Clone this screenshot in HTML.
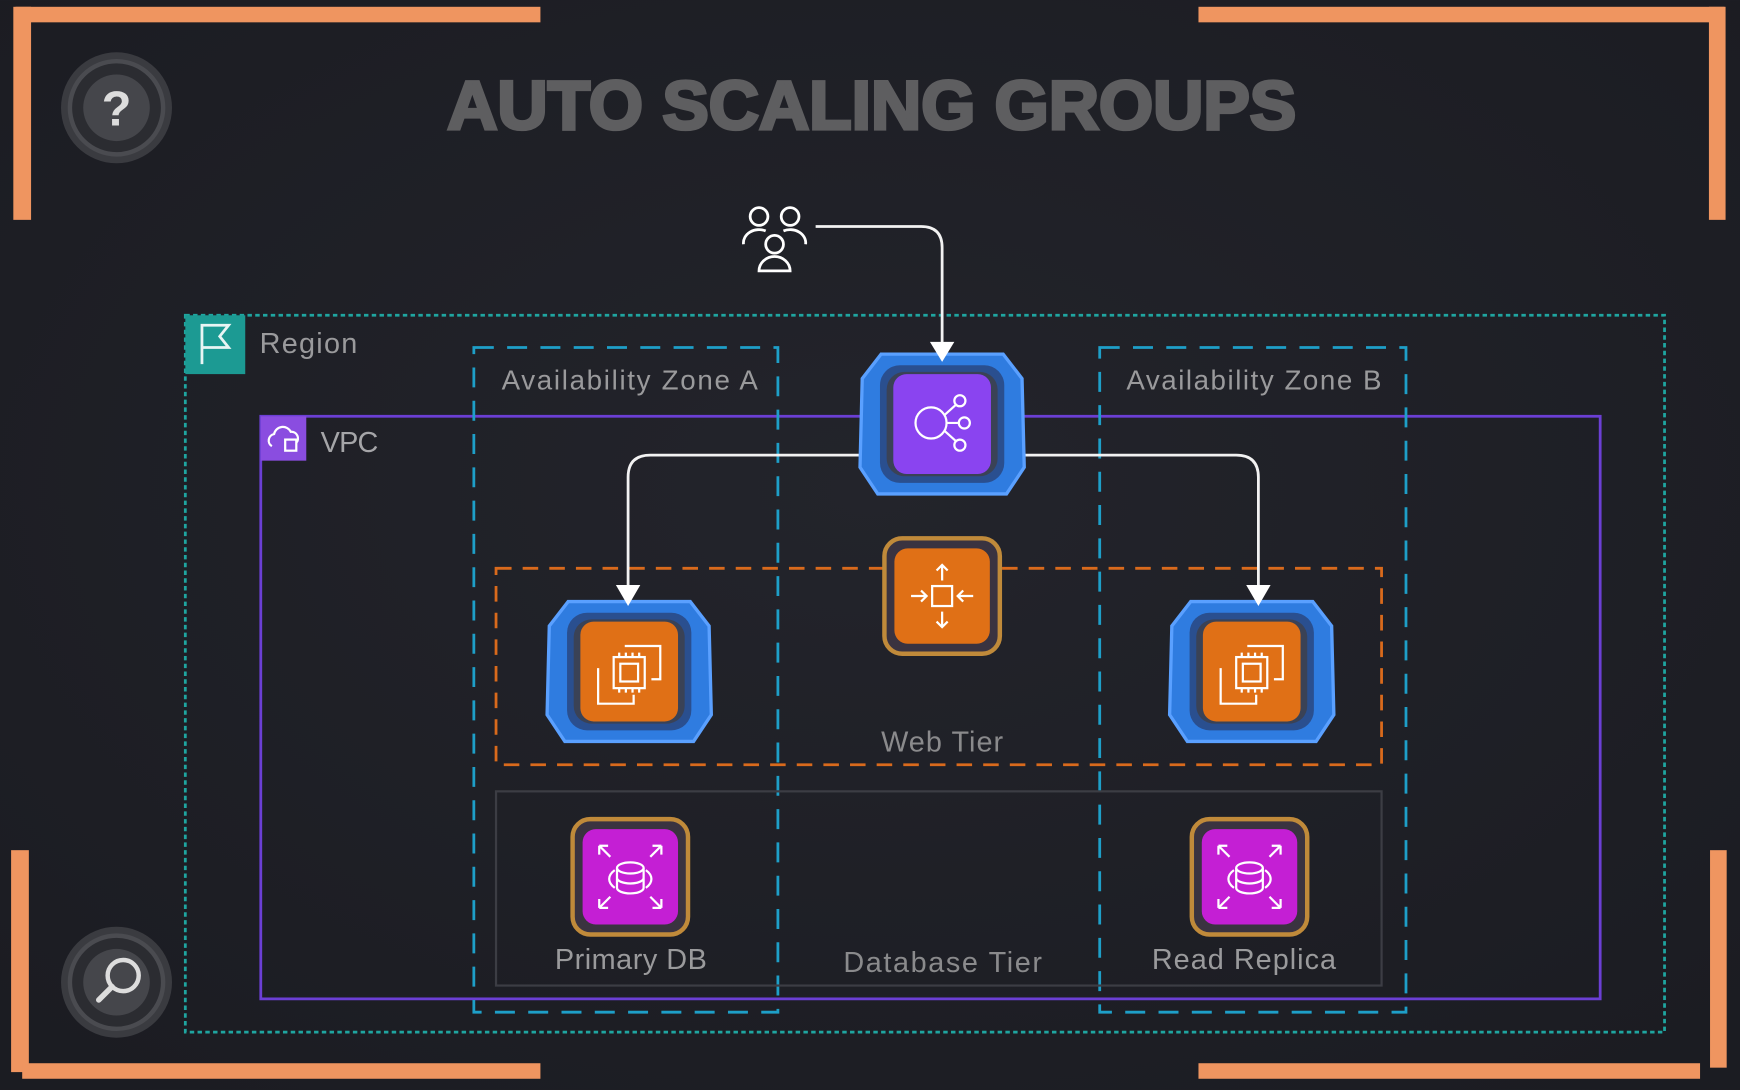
<!DOCTYPE html>
<html><head><meta charset="utf-8"><style>
html,body{margin:0;padding:0;background:#1e1f26;}
svg{display:block}
text{font-family:"Liberation Sans",sans-serif;}
</style></head><body>
<svg width="1740" height="1090" viewBox="0 0 1568 982" xmlns="http://www.w3.org/2000/svg">
<defs>
<radialGradient id="bg" cx="50%" cy="45%" r="70%"><stop offset="0" stop-color="#23242b"/><stop offset="1" stop-color="#1b1c22"/></radialGradient>
<g id="blob">
<path d="M-55,-62 L55,-62 L72,-40 L74,40 L58,64 L-58,64 L-74,40 L-72,-40 Z" fill="#2f7ce0"/>
<path d="M-55,-62 L55,-62 L72,-40 L74,40 L58,64 L-58,64 L-74,40 L-72,-40 Z" fill="none" stroke="#5aa0ff" stroke-width="3"/>
<rect x="-56" y="-52" width="112" height="106" rx="18" fill="#2a4f8f"/>
<rect x="-50" y="-46" width="100" height="94" rx="16" fill="#3a4256"/>
</g>
<g id="ec2">
<rect x="-44" y="-44" width="88" height="90" rx="12" fill="#e07016"/>
<g fill="none" stroke="#fff" stroke-width="2"><rect x="-14" y="-12" width="28" height="28"/><rect x="-8" y="-6" width="16" height="16"/><path d="M-4,-22 L28,-22 L28,8 L20,8 M-28,-2 L-28,30 L4,30 L4,22"/><path d="M-9,-16 L-9,-12 M-3,-16 L-3,-12 M3,-16 L3,-12 M9,-16 L9,-12 M-9,16 L-9,20 M-3,16 L-3,20 M3,16 L3,20 M9,16 L9,20"/></g>
</g>
<g id="db">
<rect x="-52" y="-52" width="104" height="104" rx="16" fill="#3a3340" stroke="#c08a3a" stroke-width="4"/>
<rect x="-43" y="-43" width="86" height="86" rx="12" fill="#c41fd4"/>
<g fill="none" stroke="#fff" stroke-width="2"><ellipse cx="0" cy="-8" rx="12" ry="5"/><path d="M-12,-8 L-12,10 A12,5 0 0 0 12,10 L12,-8 M-12,1 A12,5 0 0 0 12,1"/><path d="M-14,-6 A28,14 0 0 0 -14,10 M14,-6 A28,14 0 0 1 14,10"/><path d="M-28,-28 L-18,-18 M-28,-28 L-28,-20 M-28,-28 L-20,-28 M28,-28 L18,-18 M28,-28 L28,-20 M28,-28 L20,-28 M-28,28 L-18,18 M-28,28 L-28,20 M-28,28 L-20,28 M28,28 L18,18 M28,28 L28,20 M28,28 L20,28"/></g>
</g>
</defs>
<rect width="1568" height="982" fill="url(#bg)"/>
<g fill="#ef9560">
<rect x="14" y="6" width="473" height="14"/><rect x="12" y="6" width="16" height="192"/>
<rect x="1080" y="6" width="474" height="14"/><rect x="1540" y="6" width="15" height="192"/>
<rect x="10" y="766" width="16" height="200"/><rect x="20" y="958" width="467" height="14"/>
<rect x="1541" y="766" width="15" height="196"/><rect x="1080" y="958" width="452" height="14"/>
</g>
<g>
<circle cx="105" cy="97" r="50" fill="#3a3b40"/><circle cx="105" cy="97" r="42" fill="#2b2c31" stroke="#4a4b50" stroke-width="4"/><circle cx="105" cy="97" r="30" fill="#45464b"/>
<text x="105" y="113" font-size="44" font-weight="bold" fill="#ddd" text-anchor="middle">?</text>
<circle cx="105" cy="885" r="50" fill="#3a3b40"/><circle cx="105" cy="885" r="42" fill="#2b2c31" stroke="#4a4b50" stroke-width="4"/><circle cx="105" cy="885" r="30" fill="#45464b"/>
<circle cx="111" cy="879" r="14" fill="none" stroke="#ddd" stroke-width="4"/><line x1="101" y1="889" x2="89" y2="901" stroke="#ddd" stroke-width="5" stroke-linecap="round"/>
</g>
<text x="403" y="116" font-size="62" font-weight="bold" fill="#5e5e60" stroke="#5e5e60" stroke-width="3" textLength="765" lengthAdjust="spacingAndGlyphs">AUTO SCALING GROUPS</text>
<rect x="167" y="284" width="1333" height="646" fill="none" stroke="#1fa5a0" stroke-width="2.5" stroke-dasharray="4,3"/>
<rect x="167" y="284" width="54" height="53" fill="#1c9a93"/>
<path d="M182,328 L182,293 L206,293 L198,303 L206,313 L182,313" fill="none" stroke="#e8f5f4" stroke-width="2.5"/>
<text x="234" y="318" font-size="26" fill="#9a9a9c" textLength="88">Region</text>
<rect x="235" y="375" width="1207" height="525" fill="none" stroke="#6b3fd4" stroke-width="2.5"/>
<rect x="235" y="375" width="41" height="40" fill="#8a4de0"/>
<path d="M245,402 a6,6 0 0 1 2,-11 a8,8 0 0 1 15,-2 a6,6 0 0 1 5,10" fill="none" stroke="#fff" stroke-width="2"/><rect x="257" y="396" width="10" height="10" fill="none" stroke="#fff" stroke-width="2"/>
<text x="289" y="407" font-size="26" fill="#a5a5a8" textLength="52">VPC</text>
<g fill="none" stroke="#1e9fc8" stroke-width="2.5" stroke-dasharray="18,12">
<rect x="427" y="313" width="274" height="599"/>
<rect x="991" y="313" width="276" height="599"/>
</g>
<text x="452" y="351" font-size="25" fill="#9a9a9c" textLength="231">Availability Zone A</text>
<text x="1015" y="351" font-size="25" fill="#9a9a9c" textLength="230">Availability Zone B</text>
<rect x="447" y="512" width="798" height="177" fill="none" stroke="#d96a1c" stroke-width="2.5" stroke-dasharray="14,10"/>
<text x="794" y="677" font-size="26" fill="#8a8a8c" textLength="110">Web Tier</text>
<rect x="447" y="713" width="798" height="175" fill="none" stroke="#3c3d44" stroke-width="2"/>
<text x="500" y="873" font-size="26" fill="#9a9a9c" textLength="137">Primary DB</text>
<text x="760" y="876" font-size="26" fill="#8a8a8c" textLength="179">Database Tier</text>
<text x="1038" y="873" font-size="26" fill="#9a9a9c" textLength="166">Read Replica</text>
<g fill="none" stroke="#fff" stroke-width="2.5">
<circle cx="684" cy="195" r="8"/><circle cx="712" cy="195" r="8"/><circle cx="698" cy="220" r="8"/>
<path d="M670,220 a14,12 0 0 1 20,-12"/><path d="M726,220 a14,12 0 0 0 -20,-12"/><path d="M684,244 a14,13 0 0 1 28,0 z"/>
</g>
<g fill="none" stroke="#f2f2f2" stroke-width="2.5">
<path d="M735,204 L830,204 Q849,204 849,223 L849,312"/>
<path d="M805,410 L586,410 Q566,410 566,430 L566,530"/>
<path d="M893,410 L1114,410 Q1134,410 1134,430 L1134,530"/>
</g>
<g transform="translate(849,381)"><use href="#blob"/>
<rect x="-44" y="-44" width="88" height="90" rx="12" fill="#8a44f0"/>
<g fill="none" stroke="#fff" stroke-width="2"><circle cx="-10" cy="0" r="14"/><circle cx="16" cy="-20" r="5"/><circle cx="20" cy="0" r="5"/><circle cx="16" cy="20" r="5"/><path d="M2,-7 L12,-16 M4,0 L15,0 M2,7 L12,16"/></g>
</g>
<g transform="translate(567,604)"><use href="#blob"/><use href="#ec2"/></g>
<g transform="translate(1128,604)"><use href="#blob"/><use href="#ec2"/></g>
<g transform="translate(849,537)">
<rect x="-52" y="-52" width="104" height="104" rx="16" fill="#3a3340" stroke="#c08a3a" stroke-width="4"/>
<rect x="-43" y="-43" width="86" height="86" rx="12" fill="#e07016"/>
<g fill="none" stroke="#fff" stroke-width="2"><rect x="-9" y="-9" width="18" height="18"/><path d="M0,-14 L0,-28 M-5,-23 L0,-28 L5,-23 M0,14 L0,28 M-5,23 L0,28 L5,23 M-28,0 L-14,0 M-19,-5 L-14,0 L-19,5 M28,0 L14,0 M19,-5 L14,0 L19,5"/></g>
</g>
<g transform="translate(568,790)"><use href="#db"/></g>
<g transform="translate(1126,790)"><use href="#db"/></g>
<g fill="#fff">
<path d="M838,308 L860,308 L849,326 Z"/>
<path d="M555,527 L577,527 L566,546 Z"/>
<path d="M1123,527 L1145,527 L1134,546 Z"/>
</g>
</svg>
</body></html>
